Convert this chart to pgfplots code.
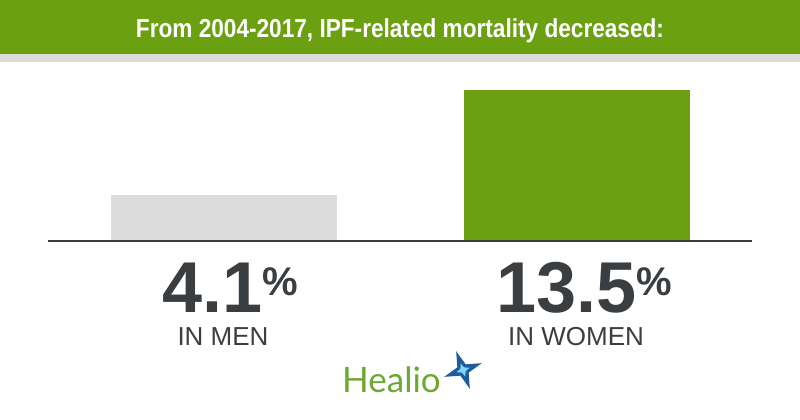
\documentclass[border=0pt]{standalone}
\usepackage{pgfplots}
\pgfplotsset{compat=1.18}
\usepackage{fontspec}
\setmainfont{Liberation Sans}
\newfontfamily\condfont[FakeStretch=0.87]{Liberation Sans}
\newfontfamily\logofont{Lato}
\usetikzlibrary{shapes.geometric}
\definecolor{hgreen}{HTML}{6BA010}
\definecolor{bargreen}{HTML}{6CA012}
\definecolor{stripgray}{HTML}{DCDCDC}
\definecolor{bargray}{HTML}{DCDCDC}
\definecolor{darktext}{HTML}{3B3E41}
\definecolor{logogreen}{HTML}{6CA832}
\definecolor{logoblue}{HTML}{1F5C9E}
\begin{document}
\begin{tikzpicture}
\useasboundingbox (0,0) rectangle (800pt,420pt);
\fill[hgreen] (0,366pt) rectangle (800pt,420pt);
\fill[stripgray] (0,358pt) rectangle (800pt,366pt);
\node[white, inner sep=0pt, anchor=base] at (400pt,382pt) {\condfont\bfseries\fontsize{26}{26}\selectfont From 2004-2017, IPF-related mortality decreased:};
\begin{axis}[at={(0pt,0pt)}, anchor=south west, scale only axis,
  width=800pt, height=420pt,
  xmin=-0.6355, xmax=1.634, ymin=-15.98, ymax=21.52,
  axis lines=none, ybar, bar width=0.641, bar shift=0pt, clip=false]
\addplot[fill=bargray, draw=none] coordinates {(0,4.1)};
\addplot[fill=bargreen, draw=none] coordinates {(1,13.5)};
\end{axis}
\draw[darktext, line width=1.3pt] (48pt,179pt) -- (752pt,179pt);
\node[darktext, inner sep=0pt, anchor=base, text depth=0pt] at (230pt,107pt) {\bfseries\fontsize{72}{72}\selectfont 4.1\raisebox{17pt}{\fontsize{40}{40}\selectfont\%}};
\node[darktext, inner sep=0pt, anchor=base, text depth=0pt] at (584pt,107pt) {\bfseries\fontsize{72}{72}\selectfont 13.5\raisebox{17pt}{\fontsize{40}{40}\selectfont\%}};
\node[darktext, inner sep=0pt, anchor=base] at (223pt,74pt) {\fontsize{26}{26}\selectfont IN MEN};
\node[darktext, inner sep=0pt, anchor=base] at (576pt,74pt) {\fontsize{26}{26}\selectfont IN WOMEN};
\node[logogreen, inner sep=0pt, anchor=base west] at (342pt,27pt) {\logofont\fontsize{35}{35}\selectfont Healio};
\node[star, star points=4, star point ratio=3.2, fill=logoblue, minimum size=40pt, inner sep=0pt, rotate=20] at (463pt,50pt) {};
\node[star, star points=4, star point ratio=2.5, fill=cyan!50!white, minimum size=14pt, inner sep=0pt, rotate=20] at (463pt,50pt) {};
\end{tikzpicture}
\end{document}
